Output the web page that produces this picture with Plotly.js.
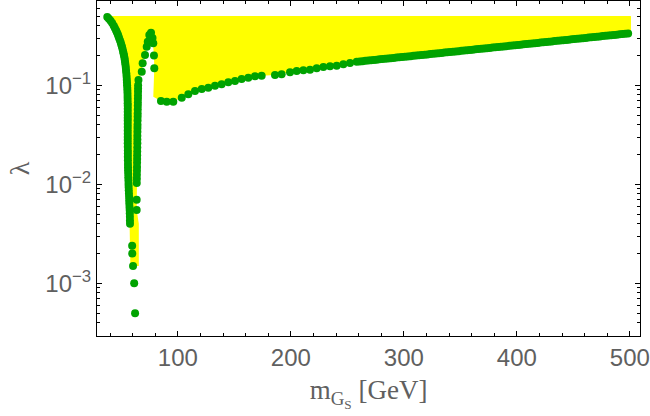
<!DOCTYPE html>
<html>
<head>
<meta charset="utf-8">
<script src="https://cdn.plot.ly/plotly-3.0.1.min.js"></script>
<style>
  html, body { margin: 0; padding: 0; background: #fff; }
  #chart { width: 650px; height: 416px; }
</style>
</head>
<body>
<div id="chart"></div>
<script>
// left branch of the resonance dip (descending towards m_h/2)
const leftX = [37.6, 39.0, 40.5, 41.9, 43.3, 44.3, 45.3, 46.0, 46.8, 47.4, 48.0, 48.8, 49.5,
  50.0, 50.6, 51.1, 51.6, 52.0, 52.4, 52.8, 53.1, 53.4, 53.7, 54.0, 54.2, 54.5, 54.7, 54.85,
  55.0, 55.15, 55.3, 55.4, 55.5, 55.55, 55.6, 55.65, 55.7, 55.7, 55.7, 55.7, 55.7, 55.7, 55.7,
  55.7, 55.7, 55.7, 55.7, 55.7, 55.7, 55.75, 55.8, 55.8, 55.8, 55.85, 55.9, 55.95, 56.0, 56.1,
  56.2, 56.3, 56.4, 56.5, 56.6, 56.75, 56.9, 57.0, 57.1, 57.25, 57.4, 57.5, 57.6, 57.65, 57.7];
const leftY = [0.49, 0.47, 0.45, 0.425, 0.40, 0.38, 0.36, 0.345, 0.33, 0.315, 0.30, 0.285, 0.27,
  0.257, 0.245, 0.232, 0.22, 0.21, 0.20, 0.19, 0.18, 0.17, 0.16, 0.15, 0.14, 0.131, 0.122, 0.114,
  0.107, 0.100, 0.094, 0.088, 0.082, 0.076, 0.071, 0.066, 0.062, 0.058, 0.054, 0.050, 0.047,
  0.044, 0.041, 0.038, 0.035, 0.0325, 0.030, 0.028, 0.026, 0.024, 0.022, 0.0205, 0.019, 0.0175,
  0.016, 0.0149, 0.0138, 0.0128, 0.0118, 0.0109, 0.0101, 0.0094, 0.0087, 0.0081, 0.0075, 0.0069,
  0.0064, 0.0059, 0.0055, 0.0051, 0.0047, 0.0043, 0.0040];

// isolated points at the bottom of the dip
const bottomX = [59.6, 59.7, 60.4, 61.4, 62.2];
const bottomY = [0.0024, 0.0020, 0.0015, 0.0010, 0.0005];

// right branch of the dip (ascending)
const riseX = [63.6, 63.6, 63.7, 63.75, 63.8, 63.85, 63.9, 63.95, 64.0, 64.05, 64.1, 64.15, 64.2,
  64.2, 64.2, 64.25, 64.3, 64.35, 64.4, 64.45, 64.5, 64.55, 64.6, 64.65, 64.7, 64.75, 64.8,
  64.85, 64.9, 65.2];
const riseY = [0.0055, 0.0070, 0.0103, 0.0114, 0.0125, 0.0137, 0.015, 0.0165, 0.018, 0.0197,
  0.0215, 0.0236, 0.026, 0.0284, 0.031, 0.034, 0.037, 0.040, 0.044, 0.048, 0.052, 0.057, 0.062,
  0.067, 0.073, 0.079, 0.086, 0.093, 0.100, 0.113];

// hump and the short tail after it
const humpX = [68.1, 68.9, 71.0, 72.5, 73.4, 74.8, 76.3, 77.6, 78.3, 78.9, 79.2];
const humpY = [0.137, 0.167, 0.202, 0.245, 0.275, 0.322, 0.340, 0.300, 0.266, 0.200, 0.149];

// main branch above ~85 GeV: separate points up to ~260 GeV, a dense band after that
const mainX = [85.1, 90.2, 96.0, 103.5, 109.3, 115.2, 121.2, 127.0, 132.9, 138.8, 144.7, 150.6,
  156.5, 162.4, 168.3, 174.2, 186.0, 191.9, 199.3, 205.2, 211.1, 217.0, 222.9, 228.8, 234.7,
  240.6, 246.5, 252.4, 258.3,
  261, 263.5, 266, 268.5, 271, 273.5, 276, 278.5, 281, 283.5, 286, 288.5, 291, 293.5, 296,
  298.5, 301, 303.5, 306, 308.5, 311, 313.5, 316, 318.5, 321, 323.5, 326, 328.5, 331, 333.5,
  336, 338.5, 341, 343.5, 346, 348.5, 351, 353.5, 356, 358.5, 361, 363.5, 366, 368.5, 371,
  373.5, 376, 378.5, 381, 383.5, 386, 388.5, 391, 393.5, 396, 398.5, 401, 403.5, 406, 408.5,
  411, 413.5, 416, 418.5, 421, 423.5, 426, 428.5, 431, 433.5, 436, 438.5, 441, 443.5, 446,
  448.5, 451, 453.5, 456, 458.5, 461, 463.5, 466, 468.5, 471, 473.5, 476, 478.5, 481, 483.5,
  486, 488.5, 491, 493.5, 496, 498.5];
const mainY = [0.0693, 0.0682, 0.0682, 0.0750, 0.0811, 0.0876, 0.0918, 0.0946, 0.0991, 0.1023,
  0.1072, 0.1105, 0.1158, 0.1193, 0.1233, 0.1250, 0.1271, 0.1291, 0.1352, 0.1393, 0.1418,
  0.1438, 0.1486, 0.1531, 0.1556, 0.1578, 0.1630, 0.1679, 0.1730,
  0.1742, 0.1754, 0.1766, 0.1778, 0.1790, 0.1803, 0.1815, 0.1828, 0.1840, 0.1853, 0.1866,
  0.1878, 0.1891, 0.1904, 0.1917, 0.1931, 0.1944, 0.1957, 0.1971, 0.1984, 0.1998, 0.2012,
  0.2025, 0.2039, 0.2053, 0.2067, 0.2082, 0.2096, 0.2110, 0.2125, 0.2140, 0.2154, 0.2169,
  0.2184, 0.2199, 0.2214, 0.2229, 0.2245, 0.2260, 0.2276, 0.2291, 0.2307, 0.2323, 0.2339,
  0.2355, 0.2371, 0.2387, 0.2404, 0.2420, 0.2437, 0.2454, 0.2470, 0.2487, 0.2505, 0.2522,
  0.2539, 0.2557, 0.2574, 0.2592, 0.2610, 0.2628, 0.2646, 0.2664, 0.2682, 0.2701, 0.2719,
  0.2738, 0.2757, 0.2776, 0.2795, 0.2814, 0.2833, 0.2853, 0.2872, 0.2892, 0.2912, 0.2932,
  0.2952, 0.2972, 0.2993, 0.3013, 0.3034, 0.3055, 0.3076, 0.3097, 0.3118, 0.3140, 0.3161,
  0.3183, 0.3205, 0.3227, 0.3249, 0.3271, 0.3294, 0.3317, 0.3339];

// allowed region: upper limit and the edge pieces not covered by the points
const lambdaMax = 0.5;
const regionRightX = 501;
const kneeX = [78.3];
const kneeY = [0.0767];
const dipFloorX = [65.5, 65.5, 58.0];
const dipFloorY = [0.004, 0.0015, 0.0015];

const yTickVals = [0.001, 0.01, 0.1];
const yTickText = ['10<sup>\u22123</sup>', '10<sup>\u22122</sup>', '10<sup>\u22121</sup>'];
const xTickVals = [100, 200, 300, 400, 500];

// minor log ticks 2..9 per decade
const yMinor = [];
for (const dec of [1e-4, 1e-3, 1e-2, 1e-1]) {
  for (let k = 2; k <= 9; k++) yMinor.push(k * dec);
}

const rev = a => a.slice().reverse();

const regionX = [leftX[0], regionRightX, regionRightX]
  .concat(rev(mainX), kneeX, rev(humpX), rev(riseX), dipFloorX, rev(leftX));
const regionY = [lambdaMax, lambdaMax, mainY[mainY.length - 1]]
  .concat(rev(mainY), kneeY, rev(humpY), rev(riseY), dipFloorY, rev(leftY));

const green = 'rgb(0,163,0)';
const dot = {mode: 'markers', type: 'scatter', marker: {size: 8, color: green}, hoverinfo: 'x+y'};

const traces = [
  {x: regionX, y: regionY, mode: 'lines', type: 'scatter', fill: 'toself',
   fillcolor: '#ffff00', line: {width: 0, color: '#ffff00'}, hoverinfo: 'skip'},
  Object.assign({x: leftX, y: leftY}, dot),
  Object.assign({x: bottomX, y: bottomY}, dot),
  Object.assign({x: riseX, y: riseY}, dot),
  Object.assign({x: humpX, y: humpY}, dot),
  Object.assign({x: mainX, y: mainY}, dot),
];

const tickFont = {family: 'Liberation Sans, Arial, sans-serif', size: 24, color: '#606060'};
const titleFont = {family: 'Liberation Serif, Times New Roman, serif', size: 27, color: '#606060'};

const layout = {
  width: 650,
  height: 416,
  margin: {l: 97, r: 10, t: 1, b: 80},
  paper_bgcolor: '#ffffff',
  plot_bgcolor: '#ffffff',
  showlegend: false,
  xaxis: {
    range: [28.5, 509],
    showline: true, mirror: 'allticks', linecolor: '#000', linewidth: 1,
    showgrid: false, zeroline: false,
    tickmode: 'array', tickvals: xTickVals,
    ticks: 'inside', ticklen: 5, tickcolor: '#000', tickwidth: 1,
    minor: {ticks: 'inside', ticklen: 3, dtick: 20, tick0: 0, tickcolor: '#000', showgrid: false},
    tickfont: tickFont,
    title: {text: 'm<sub>G<sub>S</sub></sub> [GeV]', font: titleFont, standoff: 10},
    automargin: false,
  },
  yaxis: {
    type: 'log',
    range: [-3.532, -0.1485],
    showline: true, mirror: 'allticks', linecolor: '#000', linewidth: 1,
    showgrid: false, zeroline: false,
    tickmode: 'array', tickvals: yTickVals, ticktext: yTickText,
    ticks: 'inside', ticklen: 5, tickcolor: '#000', tickwidth: 1,
    minor: {ticks: 'inside', ticklen: 3, tickmode: 'array', tickvals: yMinor, tickcolor: '#000', showgrid: false},
    tickfont: tickFont,
    title: {text: '\u03bb', font: {family: titleFont.family, size: 28, color: '#606060'}, standoff: 7},
    automargin: false,
  },
};

Plotly.newPlot('chart', traces, layout, {displayModeBar: false, staticPlot: true});
</script>
</body>
</html>
